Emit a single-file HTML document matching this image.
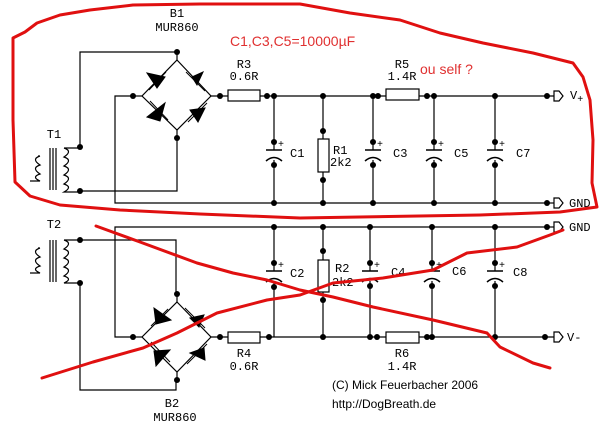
<!DOCTYPE html>
<html><head><style>
html,body{margin:0;padding:0;background:#fff;}
svg{display:block;}
text{font-family:"Liberation Mono",monospace;font-size:12px;fill:#000;}
.s{font-family:"Liberation Sans",sans-serif;}
</style></head><body>
<svg width="600" height="441" viewBox="0 0 600 441" xmlns="http://www.w3.org/2000/svg">
<g stroke="#000" stroke-width="1.2" fill="none">
<polyline points="80,147 80,52 177,52 177,60"/>
<polyline points="80,191 177,191 177,130"/>
<polyline points="133,96 115,96 115,203 547,203"/>
<line x1="142" y1="96" x2="133" y2="96"/>
<line x1="211" y1="96" x2="228" y2="96"/>
<line x1="260" y1="96" x2="386" y2="96"/>
<line x1="419" y1="96" x2="554" y2="96"/>
<polygon points="177,60 211,96 177,130 142,96"/>
<line x1="274" y1="96" x2="274" y2="150"/><line x1="274" y1="160" x2="274" y2="203"/>
<line x1="323" y1="96" x2="323" y2="139"/><line x1="323" y1="172" x2="323" y2="203"/>
<line x1="373" y1="96" x2="373" y2="150"/><line x1="373" y1="160" x2="373" y2="203"/>
<line x1="434" y1="96" x2="434" y2="150"/><line x1="434" y1="160" x2="434" y2="203"/>
<line x1="495" y1="96" x2="495" y2="150"/><line x1="495" y1="160" x2="495" y2="203"/>
<line x1="547" y1="203" x2="554" y2="203"/>
<polyline points="80,240 176,240 176,294"/>
<polyline points="80,283 80,390 176,390 176,380"/>
<polyline points="133,337 115,337 115,227 547,227"/>
<polygon points="177,302 211,337 177,372 142,337"/>
<line x1="177" y1="294" x2="177" y2="302"/><line x1="177" y1="372" x2="177" y2="380"/>
<line x1="142" y1="337" x2="133" y2="337"/>
<line x1="211" y1="337" x2="228" y2="337"/>
<line x1="260" y1="337" x2="386" y2="337"/>
<line x1="419" y1="337" x2="554" y2="337"/>
<line x1="274" y1="227" x2="274" y2="271"/><line x1="274" y1="281" x2="274" y2="337"/>
<line x1="323" y1="227" x2="323" y2="260"/><line x1="323" y1="292" x2="323" y2="337"/>
<line x1="370" y1="227" x2="370" y2="271"/><line x1="370" y1="281" x2="370" y2="337"/>
<line x1="432" y1="227" x2="432" y2="271"/><line x1="432" y1="281" x2="432" y2="337"/>
<line x1="495" y1="227" x2="495" y2="271"/><line x1="495" y1="281" x2="495" y2="337"/>
<line x1="547" y1="227" x2="554" y2="227"/>
</g>
<g fill="#fff" stroke="#000" stroke-width="1.2">
<rect x="228" y="90" width="32" height="11"/><rect x="386" y="89" width="33" height="11"/>
<rect x="318" y="139" width="11" height="33"/>
<rect x="228" y="332" width="32" height="11"/><rect x="386" y="332" width="33" height="11"/>
<rect x="318" y="260" width="11" height="32"/>
<polygon points="554,91 559,91 563,96 559,101 554,101"/>
<polygon points="554,198 559,198 563,203 559,208 554,208"/>
<polygon points="554,222 559,222 563,227 559,232 554,232"/>
<polygon points="554,332 559,332 563,337 559,342 554,342"/>
</g>
<g stroke="#000" stroke-width="1.5" fill="none">
<path d="M266,150h16 M266,161q8,-7 16,0 M365,150h16 M365,161q8,-7 16,0 M426,150h16 M426,161q8,-7 16,0 M487,150h16 M487,161q8,-7 16,0"/>
<path d="M266,271h16 M266,282q8,-7 16,0 M362,271h16 M362,282q8,-7 16,0 M424,271h16 M424,282q8,-7 16,0 M487,271h16 M487,282q8,-7 16,0"/>
</g>
<g>
<text x="278" y="147" style="font-size:10px">+</text><text x="377" y="147" style="font-size:10px">+</text><text x="438" y="147" style="font-size:10px">+</text><text x="499" y="147" style="font-size:10px">+</text>
<text x="278" y="268" style="font-size:10px">+</text><text x="374" y="268" style="font-size:10px">+</text><text x="436" y="268" style="font-size:10px">+</text><text x="499" y="268" style="font-size:10px">+</text>
</g>
<g fill="#000" stroke="#000" stroke-width="1">
<polygon points="147,73 165,77 157,88"/><line x1="149" y1="90" x2="166" y2="72"/>
<polygon points="192,77 203,72 197,85"/><line x1="186" y1="72" x2="205" y2="91"/>
<polygon points="147,117 165,103 160,121"/><line x1="150" y1="101" x2="168" y2="120"/>
<polygon points="190,110 205,108 198,122"/><line x1="188" y1="122" x2="207" y2="103"/>
<polygon points="154,308 171,320 156,324"/><line x1="151" y1="326" x2="168" y2="309"/>
<polygon points="190,318 204,315 199,327"/><line x1="185" y1="308" x2="205" y2="328"/>
<polygon points="154,351 170,350 156,366"/><line x1="151" y1="342" x2="170" y2="362"/>
<polygon points="190,353 204,348 205,360"/><line x1="187" y1="364" x2="207" y2="344"/>
</g>
<g stroke="#000" stroke-width="1.2" fill="none">
<path d="M50,148v42 M53,148v42 M56,148v42 M50,240v42 M53,240v42 M56,240v42"/>
<path d="M64,148 q9,3 0,9 q9,3 0,9 q9,3 0,9 q9,3 0,9 q9,3 0,8 h16 M64,148h16"/>
<path d="M64,240 q9,3 0,9 q9,3 0,9 q9,3 0,9 q9,3 0,9 q9,3 0,7 h16 M64,240h16"/>
<path d="M40,156 q-9,3 0,9 q-9,3 0,9 q-9,3 0,7 h-10 M40,156h-2"/>
<path d="M40,248 q-9,3 0,9 q-9,3 0,9 q-9,3 0,7 h-10 M40,248h-2"/>
</g>
<g fill="#000">
<circle cx="177" cy="52" r="3"/><circle cx="133" cy="96" r="3"/><circle cx="220" cy="96" r="3"/><circle cx="177" cy="138" r="3"/>
<circle cx="80" cy="147" r="3"/><circle cx="80" cy="191" r="3"/>
<circle cx="267" cy="96" r="3"/><circle cx="274" cy="96" r="3"/><circle cx="323" cy="96" r="3"/><circle cx="373" cy="96" r="3"/><circle cx="378" cy="96" r="3"/><circle cx="427" cy="96" r="3"/><circle cx="434" cy="96" r="3"/><circle cx="495" cy="96" r="3"/><circle cx="547" cy="96" r="3"/>
<circle cx="274" cy="142" r="3"/><circle cx="274" cy="165" r="3"/><circle cx="323" cy="131" r="3"/><circle cx="323" cy="180" r="3"/>
<circle cx="373" cy="142" r="3"/><circle cx="373" cy="165" r="3"/><circle cx="434" cy="142" r="3"/><circle cx="434" cy="165" r="3"/><circle cx="495" cy="142" r="3"/><circle cx="495" cy="165" r="3"/>
<circle cx="274" cy="203" r="3"/><circle cx="323" cy="203" r="3"/><circle cx="373" cy="203" r="3"/><circle cx="434" cy="203" r="3"/><circle cx="495" cy="203" r="3"/><circle cx="547" cy="203" r="3"/>
<circle cx="80" cy="240" r="3"/><circle cx="80" cy="283" r="3"/>
<circle cx="177" cy="294" r="3"/><circle cx="133" cy="337" r="3"/><circle cx="220" cy="337" r="3"/><circle cx="177" cy="380" r="3"/>
<circle cx="274" cy="227" r="3"/><circle cx="323" cy="227" r="3"/><circle cx="370" cy="227" r="3"/><circle cx="432" cy="227" r="3"/><circle cx="495" cy="227" r="3"/><circle cx="547" cy="227" r="3"/>
<circle cx="274" cy="263" r="3"/><circle cx="274" cy="287" r="3"/><circle cx="323" cy="251" r="3"/><circle cx="323" cy="300" r="3"/>
<circle cx="370" cy="263" r="3"/><circle cx="370" cy="286" r="3"/><circle cx="432" cy="263" r="3"/><circle cx="432" cy="286" r="3"/><circle cx="495" cy="263" r="3"/><circle cx="495" cy="286" r="3"/>
<circle cx="269" cy="337" r="3"/><circle cx="323" cy="337" r="3"/><circle cx="370" cy="337" r="3"/><circle cx="377" cy="337" r="3"/><circle cx="427" cy="337" r="3"/><circle cx="432" cy="337" r="3"/><circle cx="495" cy="337" r="3"/><circle cx="545" cy="337" r="3"/>
</g>
<g text-anchor="middle">
<text x="177" y="17">B1</text><text x="177" y="31">MUR860</text>
<text x="244" y="68">R3</text><text x="244" y="80">0.6R</text>
<text x="402" y="68">R5</text><text x="402" y="80">1.4R</text>
<text x="244" y="357">R4</text><text x="244" y="370">0.6R</text>
<text x="402" y="357">R6</text><text x="402" y="370">1.4R</text>
<text x="172" y="407">B2</text><text x="175" y="421">MUR860</text>
<text x="54" y="138">T1</text><text x="54" y="228">T2</text>
</g>
<text x="290" y="157">C1</text><text x="333" y="154">R1</text><text x="330" y="166">2k2</text>
<text x="393" y="157">C3</text><text x="454" y="157">C5</text><text x="516" y="157">C7</text>
<text x="290" y="277">C2</text><text x="335" y="272">R2</text><text x="332" y="286">2k2</text>
<text x="391" y="276">C4</text><text x="452" y="275">C6</text><text x="513" y="276">C8</text>
<text x="570" y="99">V<tspan style="font-size:10px" dy="3">+</tspan></text>
<text x="569" y="207">GND</text><text x="569" y="231">GND</text><text x="567" y="341">V-</text>
<text class="s" x="332" y="389">(C) Mick Feuerbacher 2006</text>
<text class="s" x="332" y="408">http://DogBreath.de</text>
<text class="s" x="230" y="46" style="font-size:14px;fill:#e03030">C1,C3,C5=10000µF</text>
<text class="s" x="420" y="74" style="font-size:14px;fill:#e03030">ou self ?</text>
<g stroke="#e01010" stroke-width="3" fill="none" stroke-linejoin="round" stroke-linecap="round">
<path d="M13,38 L25,32 L37,23 L60,15 L90,10 L133,5 L200,4 L300,4 L350,13 L400,20 L440,33 L483,43 L533,53 L573,63 L583,77 L590,100 L593,140 L592,183 L597,207 L560,212 L480,215 L300,218 L200,214 L120,210 L60,205 L30,196 L15,182 L13,120 Z"/>
<path d="M96,226 L140,242 L197,263 L233,273 L267,280 L300,290 L333,297 L373,307 L433,320 L487,333 L500,347 L533,363 L550,368"/>
<path d="M42,378 L93,362 L143,348 L177,333 L217,313 L267,300 L300,295 L333,283 L383,278 L433,270 L467,253 L517,247 L550,235 L563,230"/>
</g>
</svg>
</body></html>
